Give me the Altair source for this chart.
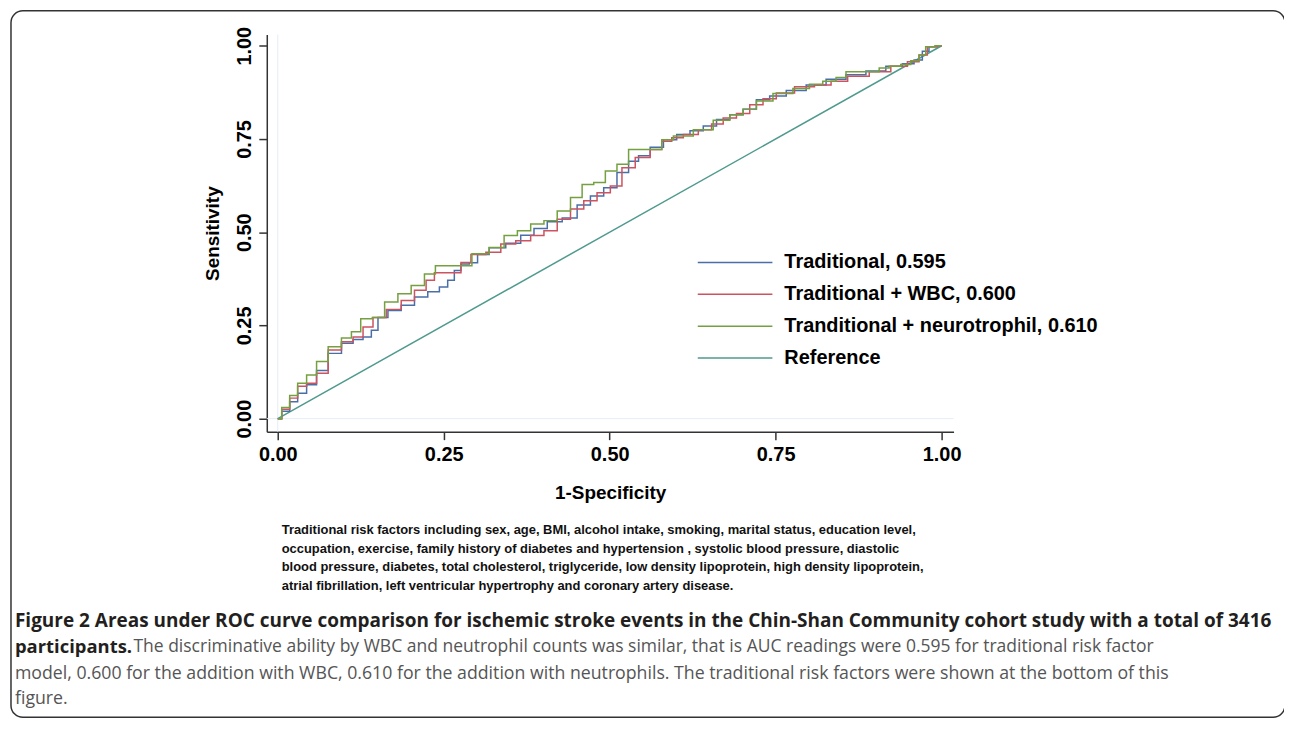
import altair as alt
import pandas as pd

# ---------------- data ----------------
trad_fpr = [0, 0.012, 0.024, 0.036, 0.051, 0.066, 0.086, 0.106, 0.121, 0.136, 0.146, 0.156, 0.176, 0.196,
            0.216, 0.236, 0.251, 0.261, 0.271, 0.281, 0.296, 0.306, 0.331, 0.356, 0.376, 0.396, 0.416, 0.441,
            0.461, 0.481, 0.501, 0.521, 0.536, 0.551, 0.571, 0.591, 0.611, 0.631, 0.651, 0.671, 0.691, 0.711,
            0.731, 0.751, 0.781, 0.811, 0.841, 0.871, 0.901, 0.931, 0.951, 0.966, 0.976, 0.986, 1.0]
trad_tpr = [0, 0.020, 0.045, 0.068, 0.091, 0.129, 0.175, 0.202, 0.212, 0.219, 0.237, 0.271, 0.290, 0.304,
            0.326, 0.340, 0.353, 0.371, 0.397, 0.415, 0.418, 0.440, 0.458, 0.470, 0.492, 0.510, 0.528, 0.538,
            0.573, 0.597, 0.619, 0.660, 0.690, 0.705, 0.728, 0.748, 0.762, 0.772, 0.785, 0.802, 0.815, 0.830,
            0.855, 0.865, 0.880, 0.895, 0.910, 0.922, 0.932, 0.945, 0.952, 0.962, 0.985, 0.997, 1.0]

wbc_fpr = [0, 0.012, 0.024, 0.036, 0.051, 0.066, 0.086, 0.106, 0.121, 0.136, 0.151, 0.176, 0.196, 0.216,
           0.231, 0.241, 0.271, 0.281, 0.301, 0.326, 0.346, 0.371, 0.391, 0.411, 0.431, 0.451, 0.471, 0.491,
           0.511, 0.526, 0.551, 0.571, 0.586, 0.601, 0.621, 0.646, 0.661, 0.681, 0.701, 0.721, 0.741, 0.761,
           0.796, 0.821, 0.846, 0.871, 0.911, 0.936, 0.961, 0.971, 0.986, 1.0]
wbc_tpr = [0, 0.025, 0.055, 0.087, 0.095, 0.122, 0.184, 0.206, 0.219, 0.246, 0.271, 0.293, 0.317, 0.344,
           0.371, 0.391, 0.391, 0.419, 0.440, 0.446, 0.468, 0.477, 0.491, 0.504, 0.535, 0.562, 0.584, 0.606,
           0.624, 0.673, 0.700, 0.722, 0.744, 0.753, 0.762, 0.775, 0.790, 0.806, 0.818, 0.842, 0.858, 0.873,
           0.890, 0.895, 0.905, 0.918, 0.930, 0.945, 0.957, 0.975, 0.997, 1.0]

neu_fpr = [0, 0.012, 0.024, 0.036, 0.051, 0.066, 0.086, 0.106, 0.116, 0.134, 0.151, 0.171, 0.191, 0.211,
           0.231, 0.244, 0.279, 0.306, 0.331, 0.351, 0.371, 0.391, 0.411, 0.431, 0.451, 0.466, 0.486, 0.501,
           0.521, 0.536, 0.576, 0.581, 0.611, 0.641, 0.671, 0.691, 0.711, 0.731, 0.761, 0.791, 0.811, 0.831,
           0.851, 0.861, 0.901, 0.911, 0.931, 0.946, 0.961, 0.971, 0.981, 0.999, 1.0]
neu_tpr = [0, 0.030, 0.062, 0.095, 0.117, 0.153, 0.193, 0.216, 0.233, 0.268, 0.271, 0.313, 0.335, 0.357,
           0.388, 0.410, 0.410, 0.442, 0.459, 0.491, 0.504, 0.522, 0.531, 0.557, 0.593, 0.628, 0.633, 0.664,
           0.682, 0.722, 0.722, 0.748, 0.758, 0.775, 0.800, 0.815, 0.830, 0.852, 0.872, 0.885, 0.897, 0.905,
           0.915, 0.930, 0.930, 0.940, 0.945, 0.950, 0.960, 0.975, 0.997, 1.0, 1.0]

ref_fpr = [0, 1]
ref_tpr = [0, 1]

series_names = ["Traditional, 0.595", "Traditional + WBC, 0.600",
                "Tranditional + neurotrophil, 0.610", "Reference"]
series_colors = ["#4a6ea8", "#cc5360", "#74a040", "#4f9a8e"]

tick_values = [0, 0.25, 0.5, 0.75, 1.0]

footnote_lines = [
    "Traditional risk factors including sex, age, BMI, alcohol intake, smoking, marital status, education level,",
    "occupation, exercise, family history of diabetes and hypertension , systolic blood pressure, diastolic",
    "blood pressure, diabetes, total  cholesterol, triglyceride, low density lipoprotein, high density lipoprotein,",
    "atrial fibrillation, left ventricular hypertrophy and coronary artery disease.",
]
caption_bold_1 = "Figure 2 Areas under ROC curve comparison for ischemic stroke events in the Chin-Shan Community cohort study with a total of 3416"
caption_bold_2 = "participants."
caption_reg_2 = "The discriminative ability by WBC and neutrophil counts was similar, that is AUC readings were 0.595 for traditional risk factor"
caption_reg_3 = "model, 0.600 for the addition with WBC, 0.610 for the addition with neutrophils. The traditional risk factors were shown at the bottom of this"
caption_reg_4 = "figure."

# ---------------- tables ----------------
curve_df = pd.concat([
    pd.DataFrame({"fpr": trad_fpr, "tpr": trad_tpr, "model": series_names[0], "ord": range(len(trad_fpr))}),
    pd.DataFrame({"fpr": wbc_fpr, "tpr": wbc_tpr, "model": series_names[1], "ord": range(len(wbc_fpr))}),
    pd.DataFrame({"fpr": neu_fpr, "tpr": neu_tpr, "model": series_names[2], "ord": range(len(neu_fpr))}),
], ignore_index=True)
ref_df = pd.DataFrame({"fpr": ref_fpr, "tpr": ref_tpr, "model": series_names[3], "ord": range(2)})
dummy = pd.DataFrame({"a": [0]})

AX_FONT = "Liberation Sans"
xscale = alt.Scale(domain=[-0.0165, 1.018], nice=False, zero=False)
yscale = alt.Scale(domain=[-0.035, 1.03], nice=False, zero=False)
cscale = alt.Scale(domain=series_names, range=series_colors)

x_axis = alt.Axis(values=tick_values, format=".2f", title="1-Specificity", grid=False,
                  domainColor="#333333", domainWidth=1.5, tickColor="#333333", tickWidth=1.5,
                  tickSize=8, labelFont=AX_FONT, labelFontWeight="bold", labelFontSize=20,
                  labelColor="black", labelPadding=5, labelFlush=False, labelOverlap=False,
                  titleFont=AX_FONT, titleFontSize=19, titleFontWeight="bold", titleColor="black",
                  titlePadding=19)
y_axis = alt.Axis(values=tick_values, format=".2f", title="Sensitivity", grid=False,
                  domainColor="#333333", domainWidth=1.5, tickColor="#333333", tickWidth=1.5,
                  tickSize=8, labelFont=AX_FONT, labelFontWeight="bold", labelFontSize=20,
                  labelColor="black", labelPadding=4, labelFlush=False, labelOverlap=False,
                  labelAngle=270, labelAlign="center", labelBaseline="bottom",
                  titleFont=AX_FONT, titleFontSize=19, titleFontWeight="bold", titleColor="black",
                  titlePadding=13)

legend = alt.Legend(title=None, orient="none", legendX=432, legendY=219, symbolType="stroke",
                    symbolSize=5625, symbolStrokeWidth=1.6, clipHeight=20, rowPadding=12,
                    labelFont=AX_FONT, labelFontSize=20, labelFontWeight="bold", labelColor="black",
                    labelOffset=11, labelLimit=600, padding=0)

frame = alt.Chart(dummy).mark_rect(filled=False, stroke="#333333", strokeWidth=1.5, cornerRadius=12).encode(
    x=alt.value(-257), x2=alt.value(1023), y=alt.value(-24), y2=alt.value(686))

vgrid = alt.Chart(dummy).mark_rule(color="#e6edf5", strokeWidth=1).encode(
    x=alt.datum(0, scale=xscale, axis=x_axis))
hgrid = alt.Chart(dummy).mark_rule(color="#e6edf5", strokeWidth=1).encode(
    y=alt.datum(0, scale=yscale, axis=y_axis))

ref_line = alt.Chart(ref_df).mark_line(strokeWidth=1.5).encode(
    x=alt.X("fpr:Q", scale=xscale, axis=x_axis),
    y=alt.Y("tpr:Q", scale=yscale, axis=y_axis),
    color=alt.Color("model:N", scale=cscale, legend=legend, sort=series_names),
    order="ord:Q")

curves = alt.Chart(curve_df).mark_line(strokeWidth=1.5, interpolate="step").encode(
    x=alt.X("fpr:Q", scale=xscale, axis=x_axis),
    y=alt.Y("tpr:Q", scale=yscale, axis=y_axis),
    color=alt.Color("model:N", scale=cscale, legend=legend, sort=series_names),
    order="ord:Q")


def txt(s, x, y, font, size, weight, color):
    return alt.Chart(dummy).mark_text(align="left", baseline="middle", font=font, fontSize=size,
                                      fontWeight=weight, color=color).encode(
        x=alt.value(x), y=alt.value(y), text=alt.value(s))


FOOT_FONT = "Liberation Sans"
CAP_FONT = "Open Sans"
texts = []
for i, line in enumerate(footnote_lines):
    texts.append(txt(line, 283 - 268, 531 + i * 18.7 - 33, FOOT_FONT, 13, "bold", "#111111"))
texts.append(txt(caption_bold_1, 15 - 268, 622 - 33, CAP_FONT, 19.05, "bold", "#231f20"))
texts.append(txt(caption_bold_2, 15 - 268, 648 - 33, CAP_FONT, 18.5, "bold", "#231f20"))
texts.append(txt(caption_reg_2, 134 - 268, 648 - 33, CAP_FONT, 17.6, "normal", "#555555"))
texts.append(txt(caption_reg_3, 15 - 268, 675 - 33, CAP_FONT, 17.8, "normal", "#555555"))
texts.append(txt(caption_reg_4, 15 - 268, 701 - 33, CAP_FONT, 17.8, "normal", "#555555"))

chart = alt.layer(frame, vgrid, hgrid, ref_line, curves, *texts).properties(
    width=690, height=399,
    autosize=alt.AutoSizeParams(type="none"),
    padding={"left": 260, "top": 25, "right": 332, "bottom": 288},
    background="white",
).configure_view(stroke=None)

chart.save("out.html", embed_options={"renderer": "svg", "actions": False})
